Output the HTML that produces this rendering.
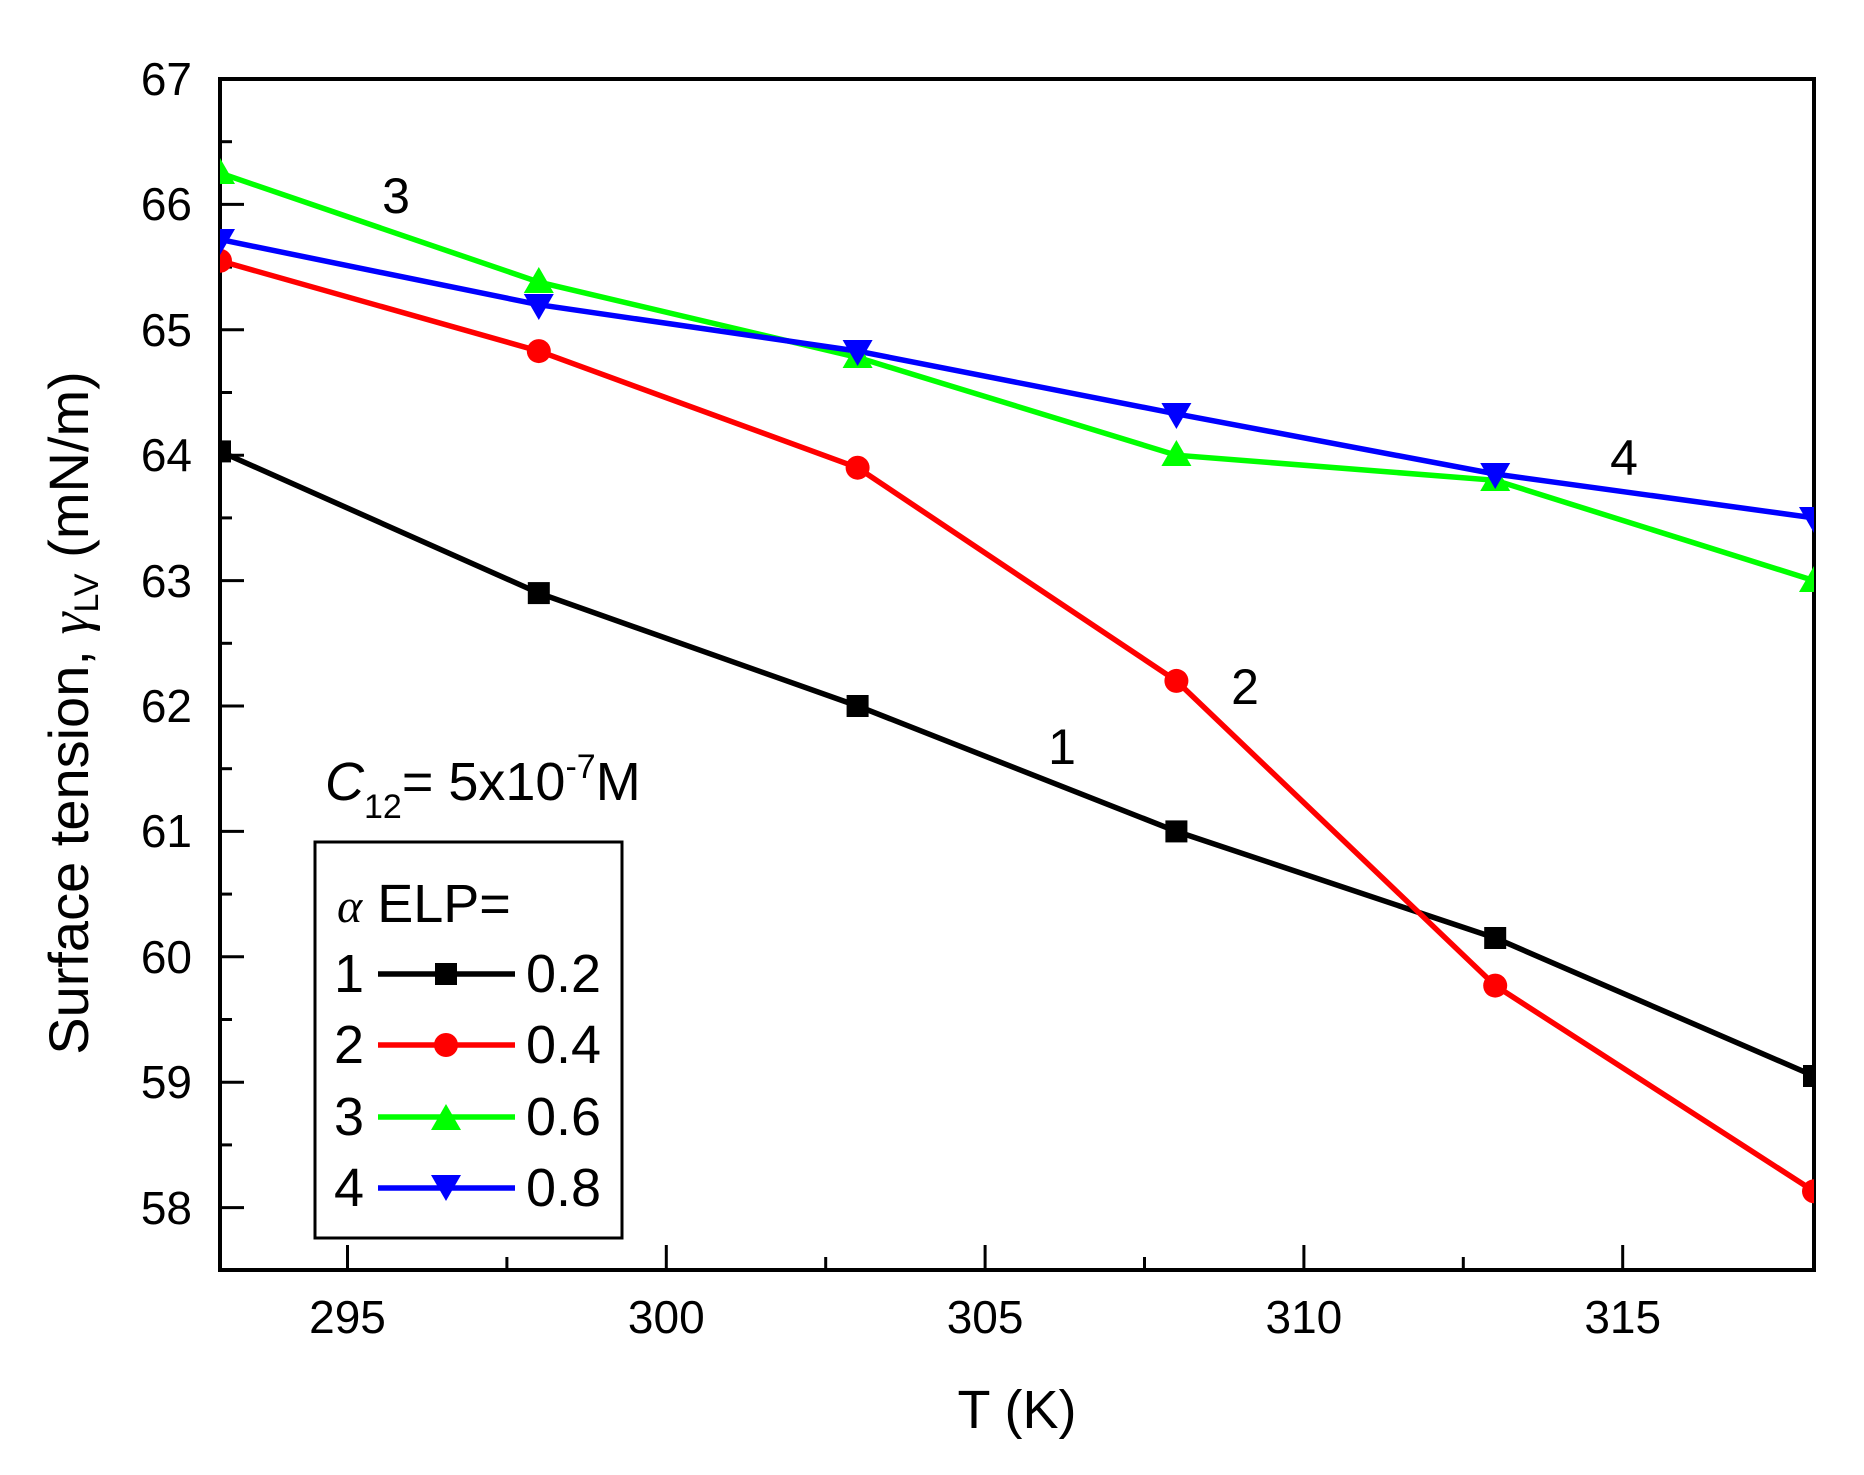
<!DOCTYPE html>
<html><head><style>
html,body{margin:0;padding:0;background:#fff;}
svg{display:block;}
text{font-family:"Liberation Sans",Arial,sans-serif;fill:#000;}
</style></head><body>
<svg width="1864" height="1475" viewBox="0 0 1864 1475" xmlns="http://www.w3.org/2000/svg">
<defs><clipPath id="c"><rect x="220" y="79" width="1594" height="1191"/></clipPath></defs>
<rect width="1864" height="1475" fill="#fff"/>
<g stroke="#000" stroke-width="3">
<line x1="220" y1="204.4" x2="244" y2="204.4"/><line x1="220" y1="329.8" x2="244" y2="329.8"/>
<line x1="220" y1="455.2" x2="244" y2="455.2"/><line x1="220" y1="580.6" x2="244" y2="580.6"/>
<line x1="220" y1="706" x2="244" y2="706"/><line x1="220" y1="831.4" x2="244" y2="831.4"/>
<line x1="220" y1="956.8" x2="244" y2="956.8"/><line x1="220" y1="1082.2" x2="244" y2="1082.2"/>
<line x1="220" y1="1207.6" x2="244" y2="1207.6"/>
<line x1="220" y1="141.7" x2="232" y2="141.7"/><line x1="220" y1="267.1" x2="232" y2="267.1"/>
<line x1="220" y1="392.5" x2="232" y2="392.5"/><line x1="220" y1="517.9" x2="232" y2="517.9"/>
<line x1="220" y1="643.3" x2="232" y2="643.3"/><line x1="220" y1="768.7" x2="232" y2="768.7"/>
<line x1="220" y1="894.1" x2="232" y2="894.1"/><line x1="220" y1="1019.5" x2="232" y2="1019.5"/>
<line x1="220" y1="1144.9" x2="232" y2="1144.9"/>
<line x1="347.5" y1="1270" x2="347.5" y2="1245"/><line x1="666.3" y1="1270" x2="666.3" y2="1245"/>
<line x1="985.1" y1="1270" x2="985.1" y2="1245"/><line x1="1303.9" y1="1270" x2="1303.9" y2="1245"/>
<line x1="1622.7" y1="1270" x2="1622.7" y2="1245"/>
<line x1="506.9" y1="1270" x2="506.9" y2="1257"/><line x1="825.7" y1="1270" x2="825.7" y2="1257"/>
<line x1="1144.5" y1="1270" x2="1144.5" y2="1257"/><line x1="1463.3" y1="1270" x2="1463.3" y2="1257"/>
</g>
<rect x="220" y="79" width="1594" height="1191" fill="none" stroke="#000" stroke-width="4"/>
<g font-size="46" text-anchor="end">
<text x="192" y="95">67</text><text x="192" y="220">66</text><text x="192" y="346">65</text>
<text x="192" y="471">64</text><text x="192" y="597">63</text><text x="192" y="722">62</text>
<text x="192" y="847">61</text><text x="192" y="973">60</text><text x="192" y="1098">59</text>
<text x="192" y="1224">58</text>
</g>
<g font-size="46" text-anchor="middle">
<text x="347.5" y="1333">295</text><text x="666.3" y="1333">300</text><text x="985.1" y="1333">305</text>
<text x="1303.9" y="1333">310</text><text x="1622.7" y="1333">315</text>
</g>
<text x="1017" y="1428" font-size="54" text-anchor="middle">T (K)</text>
<text transform="translate(88,713) rotate(-90)" font-size="56" text-anchor="middle">Surface tension, <tspan font-family="Liberation Serif" font-style="italic">γ</tspan><tspan font-size="34" dy="10">LV</tspan><tspan dy="-10"> (mN/m)</tspan></text>
<g clip-path="url(#c)" stroke-width="5.5" fill="none">
<polyline stroke="#000" points="220,451.4 538.8,593.1 857.6,706 1176.4,831.4 1495.2,938 1814,1076"/>
<polyline stroke="#f00" points="220,260.8 538.8,351.1 857.6,467.7 1176.4,680.9 1495.2,985.6 1814,1191.3"/>
<polyline stroke="#0f0" points="220,173 538.8,282.1 857.6,357.4 1176.4,455.2 1495.2,480.3 1814,580.6"/>
<polyline stroke="#00f" points="220,239.5 538.8,304.7 857.6,351.1 1176.4,413.8 1495.2,474 1814,517.9"/>
<g fill="#000" stroke="none">
<rect x="209" y="440.4" width="22" height="22"/><rect x="527.8" y="582.1" width="22" height="22"/>
<rect x="846.6" y="695" width="22" height="22"/><rect x="1165.4" y="820.4" width="22" height="22"/>
<rect x="1484.2" y="927" width="22" height="22"/><rect x="1803" y="1065" width="22" height="22"/>
</g>
<g fill="#f00" stroke="none">
<circle cx="220" cy="260.8" r="12"/><circle cx="538.8" cy="351.1" r="12"/><circle cx="857.6" cy="467.7" r="12"/>
<circle cx="1176.4" cy="680.9" r="12"/><circle cx="1495.2" cy="985.6" r="12"/><circle cx="1814" cy="1191.3" r="12"/>
</g>
<g fill="#0f0" stroke="none">
<polygon points="220,158 235,184 205,184"/><polygon points="538.8,267 553.8,293 523.8,293"/>
<polygon points="857.6,342 872.6,368 842.6,368"/><polygon points="1176.4,440 1191.4,466 1161.4,466"/>
<polygon points="1495.2,465 1510.2,491 1480.2,491"/><polygon points="1814,566 1829,592 1799,592"/>
</g>
<g fill="#00f" stroke="none">
<polygon points="220,255 235,229 205,229"/><polygon points="538.8,320 553.8,294 523.8,294"/>
<polygon points="857.6,366 872.6,340 842.6,340"/><polygon points="1176.4,429 1191.4,403 1161.4,403"/>
<polygon points="1495.2,489 1510.2,463 1480.2,463"/><polygon points="1814,533 1829,507 1799,507"/>
</g>
</g>
<g font-size="50" text-anchor="middle">
<text x="396" y="213">3</text><text x="1624" y="475">4</text>
<text x="1245" y="704">2</text><text x="1062" y="764">1</text>
</g>
<text x="325" y="800" font-size="54"><tspan font-style="italic">C</tspan><tspan font-size="34" dy="18">12</tspan><tspan dy="-18">= 5x10</tspan><tspan font-size="34" dy="-22">-7</tspan><tspan dy="22">M</tspan></text>
<rect x="315" y="842" width="307" height="396" fill="#fff" stroke="#000" stroke-width="3"/>
<text x="337" y="922" font-size="54"><tspan font-family="Liberation Serif" font-style="italic" font-size="48">α</tspan> ELP=</text>
<g font-size="54">
<text x="334" y="992">1</text><text x="526" y="992">0.2</text>
<text x="334" y="1063">2</text><text x="526" y="1063">0.4</text>
<text x="334" y="1135">3</text><text x="526" y="1135">0.6</text>
<text x="334" y="1206">4</text><text x="526" y="1206">0.8</text>
</g>
<g stroke-width="5.5">
<line x1="378" y1="974" x2="515" y2="974" stroke="#000"/>
<line x1="378" y1="1045" x2="515" y2="1045" stroke="#f00"/>
<line x1="378" y1="1117" x2="515" y2="1117" stroke="#0f0"/>
<line x1="378" y1="1188" x2="515" y2="1188" stroke="#00f"/>
</g>
<rect x="435" y="963" width="22" height="22" fill="#000"/>
<circle cx="446" cy="1045" r="12" fill="#f00"/>
<polygon points="446,1104 461,1130 431,1130" fill="#0f0"/>
<polygon points="446,1201 461,1175 431,1175" fill="#00f"/>
</svg>
</body></html>
